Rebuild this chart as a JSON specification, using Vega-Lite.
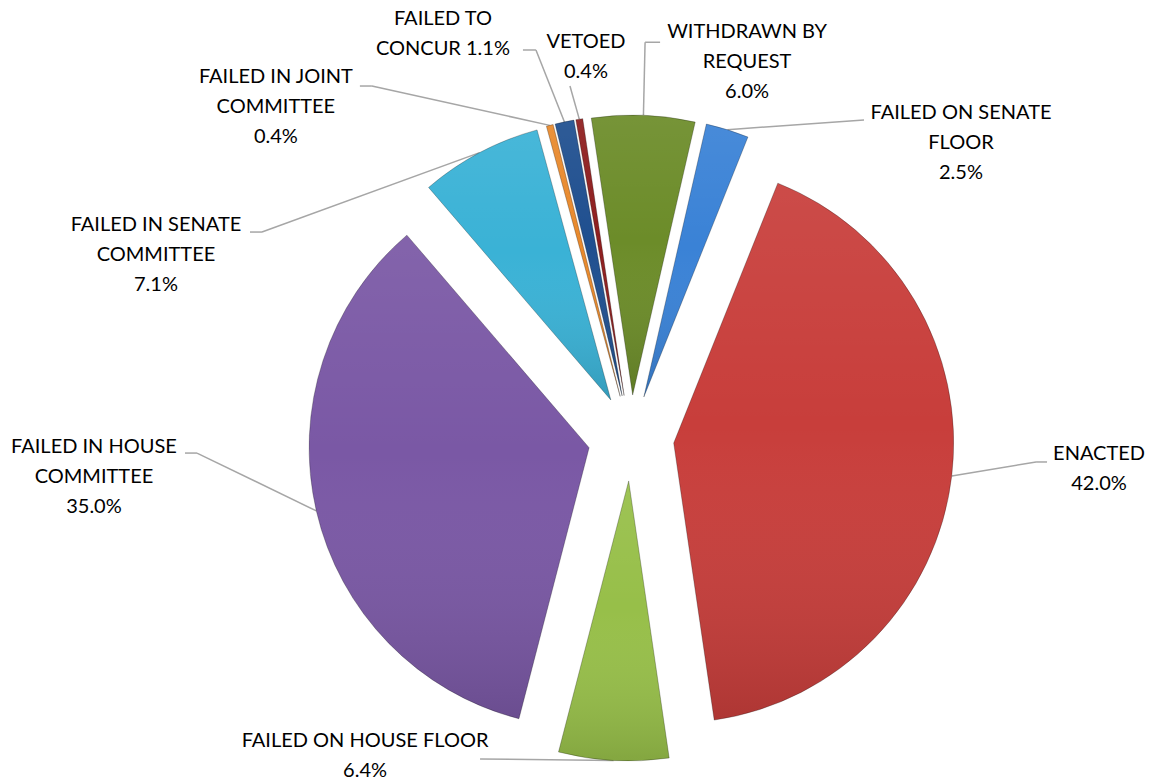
{
  "$schema": "https://vega.github.io/schema/vega-lite/v6.json",
  "width": 1046,
  "height": 688,
  "autosize": {"type": "none"},
  "padding": {"left": 108, "top": 94, "right": 0, "bottom": 0},
  "background": "white",
  "config": {"view": {"stroke": null}},
  "params": [
    {"name": "a0", "value": -0.14835},
    {"name": "ex", "value": 43},
    {"name": "rr", "value": 280},
    {"name": "lr", "value": 340},
    {"name": "lab", "value": {
      "WITHDRAWN BY REQUEST": [103, -36, -102, -20, -87, -20],
      "FAILED ON SENATE FLOOR": [228.5, 29.5, -97, -23, -97, -23],
      "ENACTED": [130.4, -8.5, -63, -7.5, -52, -7.5],
      "FAILED ON HOUSE FLOOR": [-247.6, -21.5, 115, 3, 115, 3],
      "FAILED IN HOUSE COMMITTEE": [-205.8, -37.7, 103, -24, 91, -24],
      "FAILED IN SENATE COMMITTEE": [-315.7, 117.4, 106, -23, 94, -23],
      "FAILED IN JOINT COMMITTEE": [-269.6, -1.9, 96, -21, 84, -21],
      "FAILED TO CONCUR": [-118, -70.8, 93, 15.5, 80, 15.5],
      "VETOED": [9.4, -45.4, -16, 29, -16, 29]
    }}
  ],
  "data": {"values": [
    {"category": "WITHDRAWN BY REQUEST", "value": 6.0, "label": "WITHDRAWN BY\nREQUEST\n6.0%"},
    {"category": "FAILED ON SENATE FLOOR", "value": 2.5, "label": "FAILED ON SENATE\nFLOOR\n2.5%"},
    {"category": "ENACTED", "value": 42.0, "label": "ENACTED\n42.0%"},
    {"category": "FAILED ON HOUSE FLOOR", "value": 6.4, "label": "FAILED ON HOUSE FLOOR\n6.4%"},
    {"category": "FAILED IN HOUSE COMMITTEE", "value": 35.0, "label": "FAILED IN HOUSE\nCOMMITTEE\n35.0%"},
    {"category": "FAILED IN SENATE COMMITTEE", "value": 7.1, "label": "FAILED IN SENATE\nCOMMITTEE\n7.1%"},
    {"category": "FAILED IN JOINT COMMITTEE", "value": 0.4, "label": "FAILED IN JOINT\nCOMMITTEE\n0.4%"},
    {"category": "FAILED TO CONCUR", "value": 1.1, "label": "FAILED TO\nCONCUR 1.1%"},
    {"category": "VETOED", "value": 0.4, "label": "VETOED\n0.4%"}
  ]},
  "transform": [
    {"stack": "value", "groupby": [], "as": ["v0", "v1"], "offset": "normalize"}
  ],
  "layer": [
    {
      "mark": {"type": "rule", "color": "#a6a6a6", "strokeWidth": 1.5},
      "encoding": {
        "x": {"value": {"expr": "width/2 + (ex+rr)*sin(a0+PI*(datum.v0+datum.v1))"}},
        "y": {"value": {"expr": "height/2 - (ex+rr)*cos(a0+PI*(datum.v0+datum.v1))"}},
        "x2": {"value": {"expr": "width/2 + lr*sin(a0+PI*(datum.v0+datum.v1)) + lab[datum.category][0] + lab[datum.category][2]"}},
        "y2": {"value": {"expr": "height/2 - lr*cos(a0+PI*(datum.v0+datum.v1)) + lab[datum.category][1] + lab[datum.category][3]"}}
      }
    },
    {
      "mark": {"type": "rule", "color": "#a6a6a6", "strokeWidth": 1.5},
      "encoding": {
        "x": {"value": {"expr": "width/2 + lr*sin(a0+PI*(datum.v0+datum.v1)) + lab[datum.category][0] + lab[datum.category][2]"}},
        "y": {"value": {"expr": "height/2 - lr*cos(a0+PI*(datum.v0+datum.v1)) + lab[datum.category][1] + lab[datum.category][3]"}},
        "x2": {"value": {"expr": "width/2 + lr*sin(a0+PI*(datum.v0+datum.v1)) + lab[datum.category][0] + lab[datum.category][4]"}},
        "y2": {"value": {"expr": "height/2 - lr*cos(a0+PI*(datum.v0+datum.v1)) + lab[datum.category][1] + lab[datum.category][5]"}}
      }
    },
    {
      "mark": {
        "type": "arc",
        "outerRadius": 280,
        "x": {"expr": "width/2 + ex*sin(a0+PI*(datum.v0+datum.v1))"},
        "y": {"expr": "height/2 - ex*cos(a0+PI*(datum.v0+datum.v1))"}
      },
      "encoding": {
        "theta": {"field": "v0", "type": "quantitative", "scale": {"domain": [0, 1], "range": [-0.14835, 6.13484]}},
        "theta2": {"field": "v1"},
        "color": {
          "field": "category", "type": "nominal", "legend": null,
          "scale": {
            "domain": ["WITHDRAWN BY REQUEST", "FAILED ON SENATE FLOOR", "ENACTED", "FAILED ON HOUSE FLOOR", "FAILED IN HOUSE COMMITTEE", "FAILED IN SENATE COMMITTEE", "FAILED IN JOINT COMMITTEE", "FAILED TO CONCUR", "VETOED"],
            "range": ["#6c8c29", "#3a82d6", "#c83e3b", "#97bf49", "#7a58a5", "#3ab2d6", "#e8892c", "#1f4f8f", "#8e1e1e"]
          }
        }
      }
    },
    {
      "mark": {
        "type": "arc",
        "outerRadius": 280,
        "x": {"expr": "width/2 + ex*sin(a0+PI*(datum.v0+datum.v1))"},
        "y": {"expr": "height/2 - ex*cos(a0+PI*(datum.v0+datum.v1))"},
        "fill": {"gradient": "linear", "x1": 0, "y1": 0, "x2": 0, "y2": 1,
          "stops": [
            {"offset": 0, "color": "rgba(255,255,255,0.07)"},
            {"offset": 0.45, "color": "rgba(255,255,255,0)"},
            {"offset": 1, "color": "rgba(0,0,0,0.13)"}
          ]},
        "stroke": "#000000",
        "strokeOpacity": 0.25,
        "strokeWidth": 1
      },
      "encoding": {
        "theta": {"field": "v0", "type": "quantitative"},
        "theta2": {"field": "v1"}
      }
    },
    {
      "mark": {
        "type": "text",
        "lineBreak": "\n",
        "font": "Lato",
        "fontSize": 20,
        "lineHeight": 30,
        "align": "center",
        "baseline": "middle",
        "color": "#000000",
        "radius": {"expr": "lr"},
        "theta": {"expr": "a0+PI*(datum.v0+datum.v1)"},
        "dx": {"expr": "lab[datum.category][0]"},
        "dy": {"expr": "lab[datum.category][1] - 15*(length(split(datum.label, '\\n')) - 1)"}
      },
      "encoding": {
        "text": {"field": "label"}
      }
    }
  ]
}
